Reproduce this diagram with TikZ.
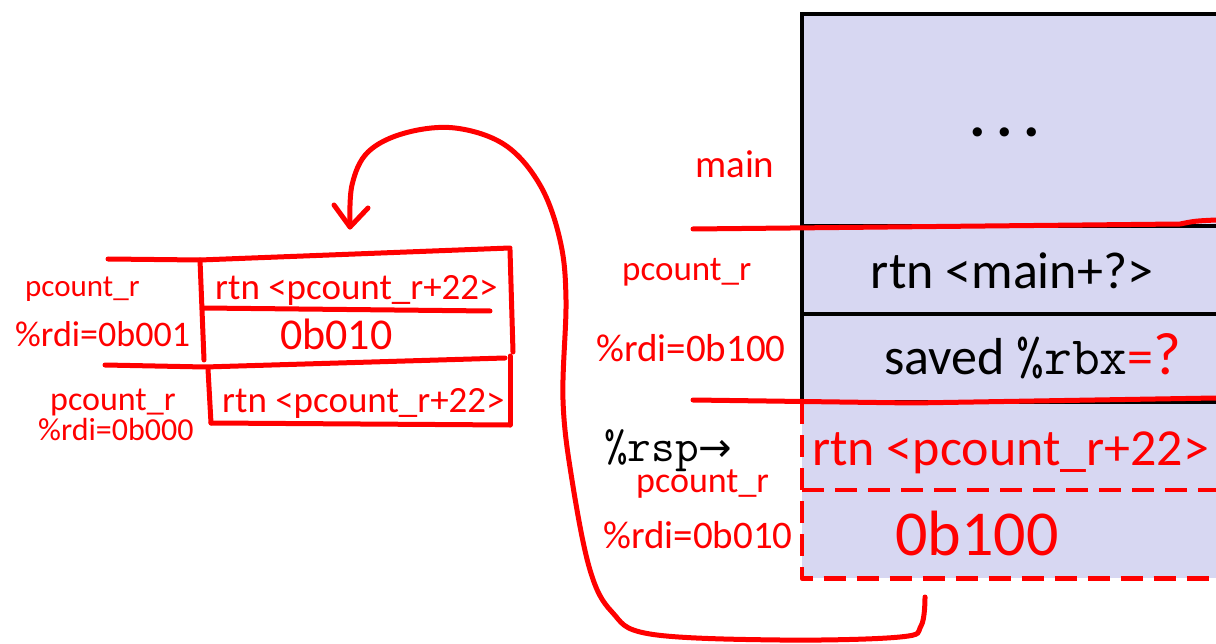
\documentclass[tikz,border=0pt]{standalone}
\usepackage{fontspec}
\setmainfont{Carlito}
\newfontfamily\symfont{DejaVu Sans}
\definecolor{stackfill}{RGB}{215,215,242}
\definecolor{pen}{RGB}{255,0,0}
\begin{document}
\begin{tikzpicture}[x=1pt,y=-1pt,
  redpen/.style={draw=pen,line width=5pt,line cap=round,line join=round},
  blackline/.style={draw=black,line width=4pt},
  hand/.style={text=pen,inner sep=0pt,anchor=base west,font=\fontsize{#1}{#1}\selectfont},
  stacktext/.style={inner sep=0pt,anchor=base,font=\fontsize{52}{52}\selectfont},
  cell/.style={fill=stackfill,draw=none,anchor=north west,minimum width=414pt,inner sep=0pt}]
\useasboundingbox (0,0) rectangle (1216,644);

% stack cells
\node[cell,minimum height=212pt] (c0) at (802,14) {};
\node[cell,minimum height=88pt] (c1) at (802,226) {};
\node[cell,minimum height=88pt] (c2) at (802,314) {};
\node[cell,minimum height=88pt] (c3) at (802,402) {};
\node[cell,minimum height=88pt] (c4) at (802,490) {};

% black borders
\draw[blackline] (c0.north east) -- (c0.north west) -- (c2.south west);
\draw[blackline] (c1.north west) -- (c1.north east);
\draw[blackline] (c2.north west) -- (c2.north east);
\draw[blackline] (c3.north west) -- (c3.north east);

% red dashed cells
\draw[redpen,line width=4.5pt,line cap=butt,dash pattern=on 22pt off 11pt] (c3.north west) -- (c4.south west) -- (c4.south east);
\draw[redpen,line width=4.5pt,line cap=butt,dash pattern=on 22pt off 11pt] (c4.north west) -- (c4.north east);

% red marker lines across stack
\draw[redpen] (693,229) -- (1180,224) .. controls (1195,221) .. (1216,220);
\draw[redpen] (693,400) -- (913,403) -- (1216,398);

% stack texts
\node[stacktext,font=\fontsize{62}{62}\selectfont\bfseries] (tdots) at (1005,137) {.\,.\,.};
\node[stacktext] (tmain) at (1012,289) {rtn <main+?>};
\node[stacktext,anchor=base west] (tsaved) at (884,374) {saved {\fontsize{54}{54}\selectfont\ttfamily\%rbx}\textcolor{pen}{=\fontsize{60}{60}\selectfont?}};
\node[stacktext,anchor=base west,text=pen] (tret) at (812,465) {rtn <pcount\_r+22>};
\node[stacktext,anchor=base west,font=\fontsize{46}{46}\selectfont\ttfamily] (trsp) at (604,461) {\%rsp{\symfont\fontsize{40}{40}\selectfont →}};
\node[hand=64] (tbig) at (895,555) {0b100};

% handwritten labels next to stack
\node[hand=39] (lmain) at (695,178) {main};
\node[hand=35] (lpc1) at (622,281) {pcount\_r};
\node[hand=39] (lrdi1) at (596,362) {\%rdi=0b100};
\node[hand=36] (lpc2) at (636,492) {pcount\_r};
\node[hand=39] (lrdi2) at (603,548) {\%rdi=0b010};

% left sketch of frames
\draw[redpen] (108,259) -- (200,260) -- (510,248);
\draw[redpen] (200,260) -- (204,360);
\draw[redpen] (510,250) -- (513,352);
\draw[redpen] (203,308) -- (490,311);
\draw[redpen] (105,365) -- (205,367) -- (505,358);
\draw[redpen] (208,369) -- (211,423);
\draw[redpen] (510,356) -- (510,425);
\draw[redpen] (211,423) -- (510,425);

\node[hand=37] (sret1) at (215,300) {rtn <pcount\_r+22>};
\node[hand=44] (sval) at (280,349) {0b010};
\node[hand=37] (sret2) at (222,413) {rtn <pcount\_r+22>};
\node[hand=31] (spc1) at (25,297) {pcount\_r};
\node[hand=36] (srdi1) at (15,347) {\%rdi=0b001};
\node[hand=34] (spc2) at (50,410) {pcount\_r};
\node[hand=32] (srdi2) at (38,440) {\%rdi=0b000};

% return arrow
\coordinate (aS) at (925,597);
\coordinate (aE) at (350,227);
\draw[redpen] plot[smooth,tension=0.6] coordinates {(aS) (921,626) (900,637) (780,640) (650,634) (612,612) (590,570) (572,480) (563,400) (566,300) (560,240) (540,185) (505,145) (455,128) (405,133) (368,152) (352,185) (aE)};
\draw[redpen] (334,205) -- (aE) -- (368,208);
\end{tikzpicture}
\end{document}
